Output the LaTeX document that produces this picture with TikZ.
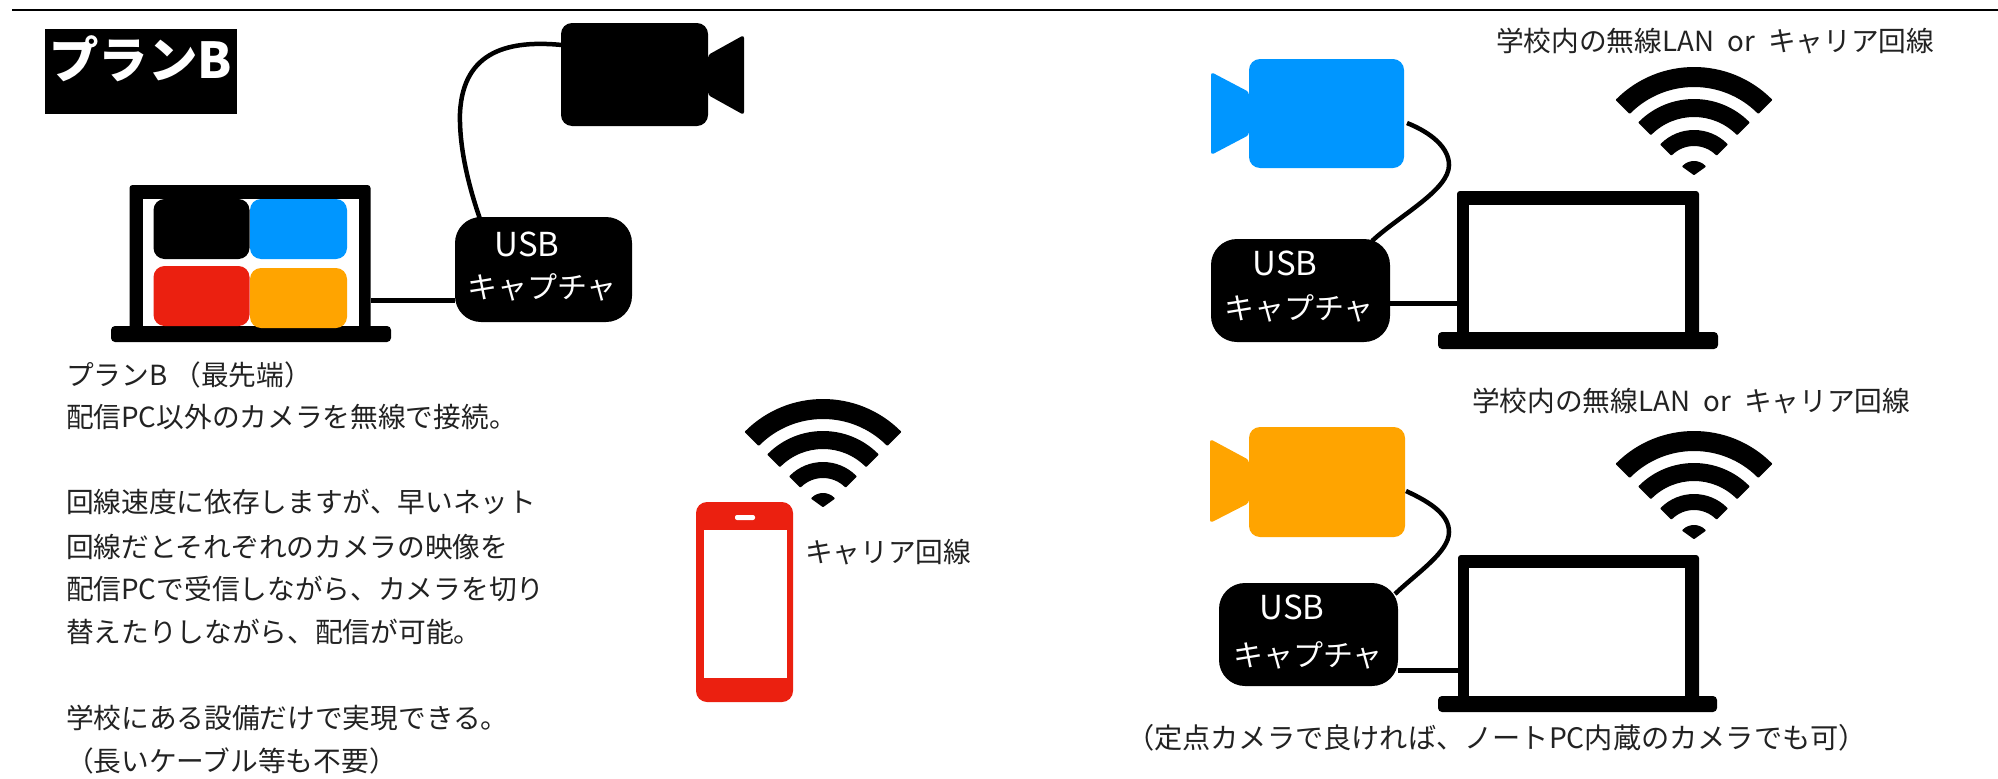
\documentclass[tikz,border=0pt]{standalone}
\usepackage{fontspec}
\setmainfont{Noto Sans CJK JP}
\definecolor{camblue}{HTML}{0096FF}
\definecolor{camred}{HTML}{EB2010}
\definecolor{camorange}{HTML}{FFA400}
\definecolor{ink}{HTML}{222222}
\tikzset{
  block/.style={inner sep=0pt,outer sep=0pt,draw=none,rectangle},
  usbbox/.style={block,fill=black,rounded corners=26pt},
  bodybox/.style={block,rounded corners=11pt},
  tile/.style={block,rounded corners=11pt},
  lapframe/.style={block,fill=black,rounded corners=3pt},
  lapscreen/.style={block,fill=white},
  lapbase/.style={block,fill=black,rounded corners=4pt},
  cable/.style={draw=black,line width=4.5pt},
  label/.style={inner sep=0pt,outer sep=0pt,text=ink,font=\fontsize{27.7}{27.7}\selectfont,anchor=west},
  usbtext/.style={inner sep=0pt,outer sep=0pt,text=white,font=\fontsize{30}{30}\selectfont},
  usblatin/.style={inner sep=0pt,outer sep=0pt,text=white,font=\fontsize{33}{33}\selectfont},
  tailshape/.style={line join=round,rounded corners=3pt},
}
\newcommand{\boxat}[6]{\node[#1,minimum width={(#5-#3)*1pt},minimum height={(#6-#4)*1pt}] (#2) at ({(#3+#5)/2},{(#4+#6)/2}) {};}
\newcommand{\mywifi}[2]{\begin{scope}[shift={(#1,#2)},x=1pt,y=1pt]
  \fill[draw=black,line width=2pt,line join=round] (45:109) arc[start angle=45,end angle=135,radius=109] -- (135:91) arc[start angle=135,end angle=45,radius=91] -- cycle;
  \fill[draw=black,line width=2pt,line join=round] (45:77) arc[start angle=45,end angle=135,radius=77] -- (135:61) arc[start angle=135,end angle=45,radius=61] -- cycle;
  \fill[draw=black,line width=2pt,line join=round] (45:46) arc[start angle=45,end angle=135,radius=46] -- (135:32) arc[start angle=135,end angle=45,radius=32] -- cycle;
  \fill[draw=black,line width=2pt,line join=round] (0,3) -- (45:15) arc[start angle=45,end angle=135,radius=15] -- cycle;
\end{scope}}
\begin{document}
\begin{tikzpicture}[x=1pt,y=-1pt]
\useasboundingbox (0,0) rectangle (1998,779);
\fill[white] (0,0) rectangle (1998,779);
\coordinate (ruleL) at (12,10);
\coordinate (ruleR) at (1998,10);
\draw[black,line width=1.3pt] (ruleL) -- (ruleR);

% title
\boxat{block,fill=black}{titlebox}{45}{29}{237}{114}
\node[inner sep=0pt,text=white,font=\fontsize{49.5}{49.5}\selectfont\bfseries,anchor=west] (title) at (49,59) {プランB};

% left set
\boxat{lapframe}{lapA}{129.5}{185}{370.5}{330}
\boxat{lapscreen}{lapAs}{143}{199}{359}{326}
\boxat{lapbase}{lapAb}{111}{326}{391}{342}
\boxat{tile,fill=black}{tileK}{153.5}{199}{249.5}{259}
\boxat{tile,fill=camblue}{tileB}{250}{199}{347}{259}
\boxat{tile,fill=camred}{tileR}{153.5}{266}{249.5}{326}
\boxat{tile,fill=camorange}{tileO}{250}{268}{347}{328}
\boxat{usbbox}{usbA}{455}{217}{632}{322}
\boxat{bodybox,fill=black}{camA}{561}{23}{708}{126}
\fill[black,tailshape] (camA.east |- 0,55) -- (744,35) -- (744,115) -- (camA.east |- 0,95) -- cycle;
\coordinate (camAport) at (562,45);
\coordinate (usbAtop) at (480,219);
\draw[cable] (camAport) .. controls (510,40) and (463,50) .. (460,113) .. controls (459,150) and (470,190) .. (usbAtop);
\coordinate (linkA) at (400,300);
\draw[black,line width=5pt] (lapA.east |- linkA) -- (usbA.west |- linkA);
\node[usblatin] (usbAa) at (527,244) {USB};
\node[usbtext] (usbAb) at (542,287) {キャプチャ};

% left text
\node[label] (t1) at (66,375) {プランB （最先端）};
\node[label] (t2) at (66,417) {配信PC以外のカメラを無線で接続。};
\node[label] (t3) at (66,502) {回線速度に依存しますが、早いネット};
\node[label] (t4) at (66,547) {回線だとそれぞれのカメラの映像を};
\node[label] (t5) at (66,589) {配信PCで受信しながら、カメラを切り};
\node[label] (t6) at (66,632) {替えたりしながら、配信が可能。};
\node[label] (t7) at (66,718) {学校にある設備だけで実現できる。};
\node[label] (t8) at (66,761) {（長いケーブル等も不要）};

% phone
\mywifi{823}{509}
\boxat{tile,fill=camred}{phone}{696}{502}{793}{702}
\boxat{lapscreen}{phoneS}{703.5}{530}{787}{678}
\boxat{block,fill=white,rounded corners=2pt}{phoneM}{735}{515}{755}{520}
\node[label] (carrier) at (805,552) {キャリア回線};

% top right
\node[label] (wanA) at (1496,41) {学校内の無線LAN\hspace{7pt} or\hspace{7pt} キャリア回線};
\mywifi{1694}{177}
\boxat{lapframe}{lapB}{1457}{191}{1699}{336}
\boxat{lapscreen}{lapBs}{1469}{205}{1685}{332}
\boxat{lapbase}{lapBb}{1438}{332}{1718}{349}
\boxat{bodybox,fill=camblue}{camB}{1249}{59}{1404}{168}
\fill[camblue,tailshape] (camB.west |- 0,92) -- (1211,72) -- (1211,155) -- (camB.west |- 0,135) -- cycle;
\boxat{usbbox}{usbB}{1211}{239}{1390}{342}
\coordinate (camBport) at (1407,123);
\coordinate (usbBtop) at (1372,241);
\draw[cable] (camBport) .. controls (1432,133) and (1449,148) .. (1449,165) .. controls (1449,190) and (1400,215) .. (usbBtop);
\coordinate (linkB) at (1420,303);
\draw[black,line width=5pt] (usbB.east |- linkB) -- (lapB.west |- linkB);
\node[usblatin] (usbBa) at (1285,263) {USB};
\node[usbtext] (usbBb) at (1299,308) {キャプチャ};

% bottom right
\node[label] (wanB) at (1472,401) {学校内の無線LAN\hspace{7pt} or\hspace{7pt} キャリア回線};
\mywifi{1694}{541}
\boxat{lapframe}{lapC}{1458}{555}{1699}{700}
\boxat{lapscreen}{lapCs}{1469}{568}{1685}{696}
\boxat{lapbase}{lapCb}{1438}{696}{1717}{712}
\boxat{bodybox,fill=camorange}{camC}{1249}{427}{1405}{537}
\fill[camorange,tailshape] (camC.west |- 0,460) -- (1210,439) -- (1210,523) -- (camC.west |- 0,503) -- cycle;
\boxat{usbbox}{usbC}{1219}{583}{1398}{686}
\coordinate (camCport) at (1406,491);
\coordinate (usbCtop) at (1395,594);
\draw[cable] (camCport) .. controls (1432,503) and (1449,515) .. (1449,532) .. controls (1449,552) and (1418,572) .. (usbCtop);
\coordinate (linkC) at (1420,670);
\draw[black,line width=5pt] (usbC.east |- linkC) -- (lapC.west |- linkC);
\node[usblatin] (usbCa) at (1292,607) {USB};
\node[usbtext] (usbCb) at (1308,655) {キャプチャ};
\node[label,font=\fontsize{28.2}{28.2}\selectfont] (note) at (1126,738) {（定点カメラで良ければ、ノートPC内蔵のカメラでも可）};
\end{tikzpicture}
\end{document}
